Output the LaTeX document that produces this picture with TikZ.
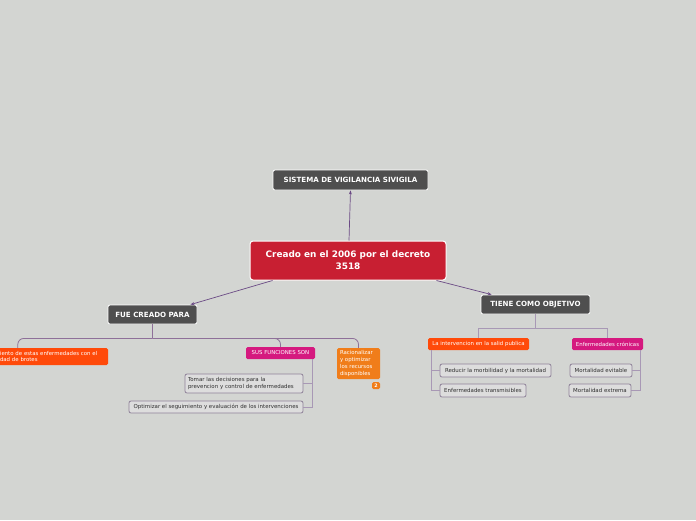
\documentclass[tikz,border=0pt]{standalone}
\usepackage{fontspec}
\setmainfont{DejaVu Sans}
\usetikzlibrary{calc,arrows.meta}
\definecolor{bg}{HTML}{D3D5D2}
\definecolor{darkfill}{HTML}{4F4F4F}
\definecolor{redfill}{HTML}{C81F32}
\definecolor{orredfill}{HTML}{FF4A0A}
\definecolor{magfill}{HTML}{D5197F}
\definecolor{orfill}{HTML}{F07D1A}
\definecolor{mainline}{HTML}{6B4A85}
\definecolor{branchline}{HTML}{8E7099}
\definecolor{lightline}{HTML}{A898B5}
\definecolor{itemfill}{HTML}{DDDDDD}
\definecolor{itemborder}{HTML}{8F8299}
\definecolor{itemtext}{HTML}{2E2E2E}
\tikzset{
  darkbox/.style={draw=white, line width=0.8pt, fill=darkfill, rounded corners=2pt, text=white, inner sep=0pt,
    font=\bfseries\fontsize{7.1}{8.5}\selectfont},
  centralbox/.style={draw=white, line width=1pt, fill=redfill, rounded corners=3pt, text=white, inner sep=0pt, align=center,
    font=\bfseries\fontsize{8.9}{12}\selectfont},
  colbox/.style={rounded corners=1.5pt, text=white, inner sep=0pt, font=\fontsize{5.4}{6.9}\selectfont},
  orredbox/.style={colbox, fill=orredfill},
  magbox/.style={colbox, fill=magfill},
  orbox/.style={colbox, fill=orfill},
  itembox/.style={draw=itemborder, line width=0.8pt, fill=itemfill, rounded corners=2pt, text=itemtext, inner sep=0pt,
    font=\fontsize{5.45}{7}\selectfont},
  mainarrow/.style={draw=mainline, line width=0.7pt, -{Stealth[length=4pt,width=3pt]}},
  branch/.style={draw=branchline, line width=0.8pt},
  lightbranch/.style={draw=lightline, line width=0.9pt},
}
\begin{document}
\begin{tikzpicture}[x=1pt,y=-1pt]
\useasboundingbox (0,0) rectangle (696,520);
\fill[bg] (0,0) rectangle (696,520);

% nodes
\node[darkbox, minimum width=155, minimum height=20] (sis) at (350.5,180) {SISTEMA DE VIGILANCIA SIVIGILA};
\node[centralbox, minimum width=196, minimum height=39] (cen) at (348,260.5) {Creado en el 2006 por el decreto\\3518};
\node[darkbox, minimum width=89, minimum height=19] (fue) at (152.5,314.5) {FUE CREADO PARA};
\node[darkbox, minimum width=109, minimum height=19] (tie) at (535.5,304.5) {TIENE COMO OBJETIVO};

\node[orredbox, minimum width=112, minimum height=17, text width=104, inner xsep=4pt, align=left] (seg) at (52,356.5)
  {iento de estas enfermedades con el\\dad de brotes};
\node[magbox, minimum width=69, minimum height=12] (sus) at (280.5,353) {SUS FUNCIONES SON};
\node[orbox, minimum width=43, minimum height=31, text width=37, inner xsep=3pt, align=left] (rac) at (358.5,363.5)
  {Racionalizar\\y optimizar\\los recursos\\disponibles};
\node[orbox, minimum width=8, minimum height=7, font=\bfseries\fontsize{4.8}{5}\selectfont] (bad) at (376,385.5) {2};
\node[itembox, minimum width=118, minimum height=19, text width=112, inner xsep=3pt, align=left] (tom) at (244,383.5)
  {Tomar las decisiones para la\\prevencion y control de enfermedades};
\node[itembox, minimum width=174, minimum height=12] (opt) at (216,407) {Optimizar el seguimiento y evaluación de los intervenciones};

\node[orredbox, minimum width=101, minimum height=12] (int) at (478.5,344) {La intervencion en la salid publica};
\node[magbox, minimum width=71, minimum height=12] (cro) at (607.5,344) {Enfermedades crónicas};
\node[itembox, minimum width=111, minimum height=13] (red) at (495.5,370.5) {Reducir la morbilidad y la mortalidad};
\node[itembox, minimum width=86, minimum height=13] (tra) at (483,390.5) {Enfermedades transmisibles};
\node[itembox, minimum width=62, minimum height=13] (evi) at (601,370.5) {Mortalidad evitable};
\node[itembox, minimum width=62, minimum height=13] (ext) at (600,390.5) {Mortalidad extrema};

% main arrows
\draw[mainarrow] ($(cen.north)+(1,0)$) -- (sis.south);
\draw[mainarrow] ($(cen.south west)+(23,0)$) -- ($(fue.north east)+(-7,0)$);
\draw[mainarrow] ($(cen.south east)+(-10,0)$) -- ($(tie.north west)+(11,0)$);

% FUE CREADO PARA branches
\coordinate (fj) at ($(fue.south)+(0,14)$);
\draw[branch] (fue.south) -- (fj);
\draw[branch, rounded corners=6pt] (fj) -| ($(seg.north west)+(22,0)$);
\draw[branch, rounded corners=6pt] (fj) -| (sus.north);
\draw[branch, rounded corners=6pt] (fj) -| (rac.north);
\draw[lightbranch] ($(sus.south east)+(-3,0)$) |- (tom.east);
\draw[lightbranch] ($(sus.south east)+(-3,0)$) |- (opt.east);

% TIENE COMO OBJETIVO branches
\coordinate (tj) at ($(tie.south)+(0,14)$);
\draw[lightbranch] (tie.south) -- (tj) -| (int.north);
\draw[lightbranch] (tj) -| (cro.north);
\draw[lightbranch] ($(int.south west)+(4,0)$) |- (red.west);
\draw[lightbranch] ($(int.south west)+(4,0)$) |- (tra.west);
\draw[lightbranch] ($(cro.south east)+(-3,0)$) |- (evi.east);
\draw[lightbranch] ($(cro.south east)+(-3,0)$) |- (ext.east);
\end{tikzpicture}
\end{document}
